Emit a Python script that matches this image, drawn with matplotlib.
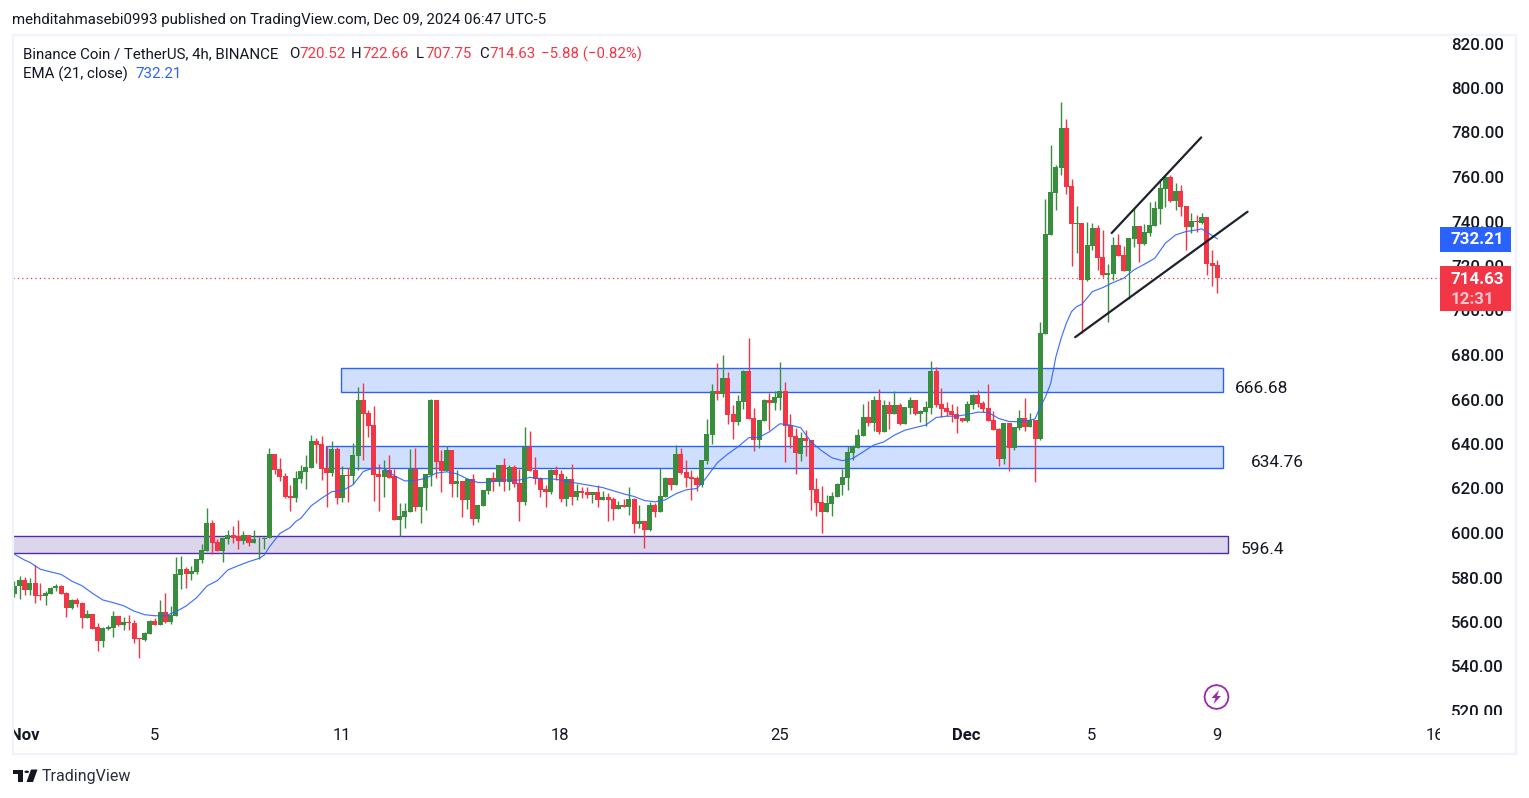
#!/usr/bin/env python3
from matplotlib import pyplot as plt
from matplotlib.patches import Rectangle, Polygon, Circle

plt.rcParams['font.family'] = ['Roboto', 'DejaVu Sans']

opens = [572.6,576.3,578.9,574.4,577.5,572.1,571.8,572.7,575.1,576.2,
         573,566.3,569.7,568.5,561.8,563.6,557.7,551.4,556.8,557.3,
         562.7,558.6,560,559.5,552.8,551.9,554.6,560.4,558.6,564.5,
         560,562.7,581.1,583.8,581.6,582.4,587.8,591.9,604.5,595.9,
         591.9,597.3,599.1,598.6,596.4,599.1,595.5,597.1,597.3,597.6,
         635.5,628.8,625.7,616.7,615.8,624.3,627.5,629.3,641.4,640,
         629.3,627,637.8,615.8,626.1,625.7,634.6,659.8,654,648.6,
         626.6,625.2,628.4,625.7,605.9,607.2,609.5,628.8,611.7,620.3,
         626.1,659.8,632.4,627.9,637.3,622,623.4,614.9,624.3,606.3,
         612.2,618.9,624.8,622.9,630.6,622.9,629.7,622.5,614,638.7,
         628.3,624.7,619.8,618.5,628.3,626.5,615.3,624.3,616.2,618.9,
         618.5,617.1,618.5,614.9,616.2,615.3,610.8,612.6,611.7,615.3,
         604.1,605.4,601.4,612.6,609.5,616.2,624.7,621.6,635.5,627.4,
         625.2,624.7,621.6,632.3,644,663.8,662.4,669.6,653.4,649.9,
         658.8,672.8,651.7,641.8,650.3,659.7,658.4,660.6,663.8,648.5,
         643.6,635.5,642.7,641.8,619.7,613.9,609.4,613,616.1,621.5,
         624.7,635.9,638.2,643.6,652.1,649.4,659.7,645.4,657.5,653.4,
         657.5,648.9,656.1,659.7,653.4,654.3,656.1,672.8,657.9,656.1,
         654.8,653.4,651.6,650.3,657.5,662,658.4,656.1,650.7,646.7,
         633.2,649.4,638.2,647.1,651.6,647.6,650.7,642.2,689.5,734,
         752.9,764.1,782.1,756,738.9,739.4,713.8,729,737.1,724.1,
         716,716.4,729.5,725,717.8,732.2,738,729.9,734.9,738,
         745.7,754.7,760,749.3,753.8,747,737.6,740.3,739.4,742,
         721.4,720.52]
closes = [576.4,578.9,574.4,577.5,571.8,571.8,573,575.4,576.2,572.7,
          566.3,569.7,568.1,561.8,563.6,556.8,551.4,557.3,557.7,562.7,
          558.6,560,559.5,552.3,552.3,555,560.4,558.6,564.5,560,
          563.1,581.6,583.8,581.6,582.9,588.3,592.3,604.5,595.5,591.9,
          597.7,599.1,597.7,596.4,599.1,595.5,597.3,597.5,597.7,635.5,
          628.4,625.2,616.2,615.8,624.8,627.9,629.7,641.4,639.6,628.8,
          627,637.8,615.8,626.1,625.7,635.1,659.8,653.5,648.1,626.1,
          625.2,628.4,624.8,605.9,607.7,609.9,628.8,611.7,620.7,626.6,
          659.8,632,627.9,637.3,622,623.4,614.9,624.3,606.3,612.6,
          619.4,624.8,623,630.6,622.9,629.7,622,614,638.7,627.9,
          624.3,619.4,618.5,628.3,626.1,615.3,624.3,616.2,618.9,618,
          617.1,618.5,614.9,616.2,614.9,610.8,612.6,611.7,615.3,604.1,
          605.4,601.4,612.6,609.5,616.7,624.7,621.6,635.5,627,624.7,
          624.3,621.6,632.8,644.5,663.8,662.4,669.6,653,649.9,659.3,
          672.8,651.2,641.8,650.8,659.7,658.4,661.1,663.8,648,643.1,
          635.9,642.7,641.3,619.3,613.4,609.4,613.4,616.6,622,625.1,
          636.4,638.6,644,652.1,649.4,659.7,645.4,657.5,653.4,657.5,
          648.9,656.6,659.7,653.4,654.8,656.6,672.8,657.5,655.7,654.3,
          653,651.2,650.3,657.9,662,657.9,655.7,650.3,646.2,633.2,
          649.4,638.2,647.6,651.6,647.6,650.7,642.2,689.9,734.4,753.3,
          764.5,782.1,755.6,738.9,739.4,713.8,729.5,737.1,723.6,716,
          716.9,729.5,724.5,717.8,732.6,738,729.9,735.3,738.5,746.1,
          755.1,760,749.3,753.8,746.6,737.6,740.3,739.8,742,720.9,
          720,714.63]
highs = [578.4,580.5,580.1,579.8,585.6,577.5,573.8,575.7,576.9,576.6,
         573.5,570.2,570.6,569,565.4,563.6,559.4,557.7,558.5,565,
         562.7,562.2,563.1,560.9,552.8,555.5,560.9,561.8,569.9,573,
         567.2,589.2,589.6,584.7,585.1,588.3,595,611.2,605.8,597.3,
         597.7,601.3,603.1,605.8,600.9,599.1,601.3,598.3,598,638.1,
         635.5,633.7,627,621.6,627.9,630.6,635.1,644.1,642.7,643.6,
         639,641.4,638.7,630.2,629.3,640.5,665.7,667.5,655.3,657.1,
         631,632.9,635.1,628.8,613.5,613.5,637.8,638.2,620.7,626.6,
         660.3,659.8,637.3,639.1,637.3,628.4,623.4,624.8,626.6,612.6,
         619.4,624.8,627.5,630.6,633.7,630.6,630.6,628.8,647.7,645.9,
         634.2,625.2,621.6,628.8,630.1,628.3,625.6,631,622,620.7,
         620.7,618.5,621.6,618.9,618,616.2,614.4,615.3,620.7,615.8,
         612.6,605.4,614,613.5,629.2,625.2,624.7,639.6,638.2,632.8,
         628.3,625.6,632.8,651.3,666.9,676.4,680,672.3,657.5,662,
         673.2,687.6,656.1,650.8,660.2,662.9,663.8,676.8,667.8,653.4,
         647.2,645.4,646.3,641.8,624.7,621.1,617,618.4,622.3,628.7,
         639.1,639.5,646.7,657.9,659.3,661.5,664.7,659.7,659.3,663.8,
         658.4,656.6,661.1,659.7,655.2,659.3,677.3,674.6,665.1,658.8,
         657.9,657,651.6,659.3,662.4,664.2,659.3,666.9,654.8,647.1,
         649.4,649.4,647.6,655.2,660.6,653.9,650.7,694.8,750.2,774.4,
         765.4,793.8,786.1,759.1,747,739.4,739.8,739.4,738.5,736.2,
         721,733.1,734.4,729,732.6,745.7,738,738.9,748.8,749.3,
         759.1,760.9,760.9,757.3,756.4,747,743.9,742.9,743.9,742,
         727.2,722.66]
lows = [571.4,570.5,572.1,572.1,568.7,569.9,567.8,572.4,574.1,572.6,
        562.4,566,566.7,557.3,561.8,556.8,547,548.7,556.5,553.2,
        558.2,556.4,556.4,550.5,543.8,551.4,554.6,558.6,558.6,559.5,
        559.1,562.7,574.8,575.3,578.9,581.6,586.5,591.9,590.5,591.9,
        587,595,595.5,592.8,595,594.1,595.5,588.3,592.6,597.6,
        626.6,623.4,615.8,609.9,614,622.5,619.8,629.3,631.5,623.9,
        611.7,625.7,613.1,614,614,622,628.4,632.9,643.2,614.4,
        609.9,616.2,624.8,605.9,598.7,602.3,609.5,609.9,604.5,610.4,
        621.2,624.8,618.5,627.9,616.2,616.2,607.2,610.8,603.6,605,
        612.2,617.6,618.9,621.2,618.9,619.4,620.7,605.4,612.6,627.9,
        622,616.2,611.7,617.6,623.8,614,612.2,612.6,614.9,615.8,
        615.8,613.5,611.7,614.9,605.4,605.9,610.8,611.7,608.1,600,
        602.3,593.3,600.9,607.2,609.5,616.2,619.4,621.6,626.5,620.7,
        614.9,618.9,620.7,631,640,659.7,661,649,642.2,648.5,
        655.7,651.2,636.8,638.2,650.3,646.3,655.2,655.2,631.9,638.2,
        626.5,632.3,634.6,610.3,607.6,600,609.4,607.6,616.1,617,
        619.3,632.8,638.2,643.6,648,645.8,644.5,645.4,646.7,653.4,
        648.5,648.9,653.4,653,649.8,648,653.4,656.6,652.1,652.5,
        650,644.9,649.8,649.8,655.7,656.6,654.3,650.3,646.2,630,
        631,627.8,637.3,646.2,645.8,647.6,622.9,641.6,689.5,734,
        745.2,761,752.4,720,725.9,689.8,713.3,727.2,718.2,715.1,
        694.9,713.8,724.5,717.8,705.2,728.6,721.8,729.5,733.5,738,
        738.9,746.6,748.8,745.2,742.5,727.2,734.9,735.3,738.9,716,
        711,707.75]

# EMA at these candle numbers
ema_idx = [0,2,3,5,7,9,11,13,15,17,19,21,23,25,27,29,31,33,35,37,39,41,43,45,47,48,49,51,53,54,
           55,57,59,61,63,65,67,69,71,73,75,77,79,81,83,85,87,89,91,93,
           95,97,99,101,103,105,107,109,111,113,115,117,119,121,123,125,127,129,131,132,133,
           135,137,139,141,143,145,147,149,151,153,155,157,159,161,163,165,167,169,
           171,173,175,177,179,181,183,185,187,189,191,193,195,196,197,198,199,200,
           201,202,203,204,205,207,209,211,213,215,217,219,221,223,225,227,228,229,230,231]
ema_val = [590.5,587.8,586.8,583.7,582.5,581.4,578.4,576.3,572.9,569.9,568.7,567.3,564.9,563.3,562.8,562.8,
           564.6,567.2,570.9,576.2,578.6,583.4,585.3,587.1,588.6,590.1,593.8,599.8,602.5,605.1,
           606.6,612.2,615.6,618.6,619.1,621.6,627.6,629.3,629,625.7,623.4,623.6,624.6,626.9,627.5,626.6,624.3,622.7,622.7,623.9,
           623.8,623.8,625,624.4,624.4,623.8,622.8,622,621.2,620.4,619,617.6,616.4,614.6,614,614.9,617.6,619.4,620,622.3,625.3,
           631.6,635.5,638.8,642.8,643,645.5,649.1,648.5,647.3,641,637,633.8,632.5,633.5,636.5,639.5,641,644,
           646.2,647.4,648.5,651.9,652.5,652.5,653.3,654.3,654.2,651.5,650.1,650,650.7,651.3,656.7,661.2,667.2,679.2,
           687.5,694.3,699.5,701.8,702.8,708.5,710.3,712.6,714.5,718.3,720.8,723.5,730.2,734,735.5,736.2,736.7,735.2,733.7,732.2]

price_ticks = list(range(520, 821, 20))
date_idx = [2, 26.85, 62.85, 104.85, 146.85, 182.85, 206.85, 230.85, 272.85]
date_labels = ['Nov', '5', '11', '18', '25', 'Dec', '5', '9', '16']
last_close = 714.63
last_ema = 732.21

# zones: first candle, last candle, low, high
zone_starts = [62.7, 59.9, -2]
zone_ends = [232.1, 232.1, 233.1]
zone_lows = [663.4, 629.2, 591.0]
zone_highs = [674.2, 639.1, 598.7]
zone_names = ['666.68', '634.76', '596.4']

# channel lines (candle number, price)
upper_line = ([210.7, 227.9], [734.8, 777.8])
lower_line = ([203.7, 236.8], [688.0, 744.4])

GREEN = '#388e3c'
RED = '#f23645'
BLUE = '#2962ff'
INK = '#131722'
FRAME = '#f0f3fa'

W, H = 1529, 798
fig = plt.figure(figsize=(W/100, H/100), dpi=100)

def px(x, y):
    return x/W, 1-y/H

def ftext(x, y, s, **kw):
    kw.setdefault('color', INK)
    kw.setdefault('fontsize', 10.8)
    kw.setdefault('va', 'center')
    return fig.text(*px(x, y), s, **kw)

def frect(x0, y0, x1, y1, **kw):
    fig.add_artist(Rectangle(px(x0, y1), (x1-x0)/W, (y1-y0)/H, transform=fig.transFigure, **kw))

def fpoly(pts, **kw):
    fig.add_artist(Polygon([px(*p) for p in pts], closed=True, transform=fig.transFigure, **kw))

# pane in pixels: x 13..1440, y 36..715
ax = fig.add_axes([13/W, 1-715/H, (1440-13)/W, (715-36)/H])
ax.set_xlim((13-14.3)/5.208, (1440-14.3)/5.208)
ax.set_ylim(800-(715-88)/2.225, 800+(88-36)/2.225)
for s in ax.spines.values():
    s.set_visible(False)
ax.patch.set_alpha(0)

for i in range(3):
    ax.add_patch(Rectangle((zone_starts[i], zone_lows[i]), zone_ends[i]-zone_starts[i],
                           zone_highs[i]-zone_lows[i], zorder=1,
                           facecolor='#d1dfff' if i < 2 else '#dcd6ed',
                           edgecolor=BLUE if i < 2 else '#512da8', linewidth=1.0, clip_on=True))

xs = list(range(len(opens)))
colors = [GREEN if c >= o else RED for o, c in zip(opens, closes)]
ax.vlines(xs, lows, highs, colors=colors, linewidth=1.0, zorder=3)
ax.bar(xs, [c-o for o, c in zip(opens, closes)], bottom=opens, width=0.96,
       color=colors, linewidth=0, zorder=3)

ax.plot(ema_idx, ema_val, color=BLUE, linewidth=0.85, zorder=4, alpha=0.9)
ax.axhline(last_close, color=RED, linewidth=0.9, linestyle=(0, (1, 2.5)), zorder=2)

for line in (upper_line, lower_line):
    ax.plot(line[0], line[1], color='#1e222d', linewidth=1.6, zorder=5, solid_capstyle='round')

ax.yaxis.tick_right()
ax.set_yticks(price_ticks)
ax.set_yticklabels([f'{p:.2f}' for p in price_ticks], fontsize=12.2, color=INK, ha='right', fontweight='medium')
ax.tick_params(axis='y', length=0, pad=46)
ax.set_xticks(date_idx)
ax.set_xticklabels(date_labels, fontsize=12, color=INK)
ax.tick_params(axis='x', length=0, pad=9)
ax.get_xticklabels()[0].set_fontweight('bold')
ax.get_xticklabels()[5].set_fontweight('bold')

# tick labels get cut at the pane edges like in the screenshot
ylab_clip = Rectangle((1440/W, 1-715/H), 80/W, 715/H, transform=fig.transFigure)
xlab_clip = Rectangle((13/W, 0), (1440-13)/W, 1, transform=fig.transFigure)
for t in ax.get_yticklabels():
    t.set_clip_path(ylab_clip)
for t in ax.get_xticklabels():
    t.set_clip_path(xlab_clip)

# zone labels
ax.text(234.4, 665.0, zone_names[0], fontsize=12.4, color=INK, va='center', ha='left', clip_on=False)
ax.text(237.5, 631.5, zone_names[1], fontsize=12.4, color=INK, va='center', ha='left')
ax.text(235.4, 592.5, zone_names[2], fontsize=12.4, color=INK, va='center', ha='left')

# frame
frect(13, 34.5, 1516, 753.5, fill=False, edgecolor=FRAME, linewidth=1.6)

# header text
ftext(12, 20, 'mehditahmasebi0993 published on TradingView.com, Dec 09, 2024 06:47 UTC-5')
ftext(23, 54.5, 'Binance Coin / TetherUS, 4h, BINANCE')
ftext(289, 54.5, 'O')
ftext(299, 54.5, '720.52', color=RED)
ftext(351, 54.5, 'H')
ftext(362, 54.5, '722.66', color=RED)
ftext(416, 54.5, 'L')
ftext(425, 54.5, '707.75', color=RED)
ftext(479, 54.5, 'C')
ftext(489, 54.5, '714.63', color=RED)
ftext(541, 54.5, '\u22125.88 (\u22120.82%)', color=RED)
ftext(23, 74.5, 'EMA (21, close)')
ftext(135, 74.5, '732.21', color=BLUE)

# price tags
frect(1440, 227, 1511, 252, facecolor=BLUE, edgecolor='none', zorder=6)
ftext(1504, 240, f'{last_ema:.2f}', color='white', fontsize=12.2, ha='right', fontweight='bold', zorder=7)
frect(1440, 266, 1511, 311, facecolor=RED, edgecolor='none', zorder=6)
ftext(1504, 279, f'{last_close:.2f}', color='white', fontsize=12.2, ha='right', fontweight='bold', zorder=7)
ftext(1494, 299, '12:31', color='#fcc9ce', fontsize=12.2, ha='right', fontweight='bold', zorder=7)

# lightning badge
fig.add_artist(Polygon([px(1216.5+12*a, 697+12*b) for a, b in
                        [(0.00, -1), (0.38, -0.92), (0.71, -0.71), (0.92, -0.38), (1, 0), (0.92, 0.38), (0.71, 0.71),
                         (0.38, 0.92), (0, 1), (-0.38, 0.92), (-0.71, 0.71), (-0.92, 0.38), (-1, 0),
                         (-0.92, -0.38), (-0.71, -0.71), (-0.38, -0.92)]],
                       closed=True, fill=False, edgecolor='#9c27b0', linewidth=1.3, transform=fig.transFigure))
fpoly([(1219, 690), (1211.5, 698), (1215.5, 698), (1213.5, 704), (1221, 696), (1217, 696)], facecolor='#9c27b0', edgecolor='none')

# TradingView mark
fpoly([(13, 769.5), (23.3, 769.5), (23.3, 782), (17.5, 782), (17.5, 774), (13, 774)], facecolor=INK, edgecolor='none')
fpoly([(31, 769.5), (37.5, 769.5), (33, 782), (26.5, 782)], facecolor=INK, edgecolor='none')
fig.add_artist(Circle(px(26.7, 771.8), 2.3/W, transform=fig.transFigure, facecolor=INK, edgecolor='none'))
ftext(42, 777, 'TradingView', fontsize=11.5, color='#2a2e39')

fig.savefig('out.png', dpi=100)
